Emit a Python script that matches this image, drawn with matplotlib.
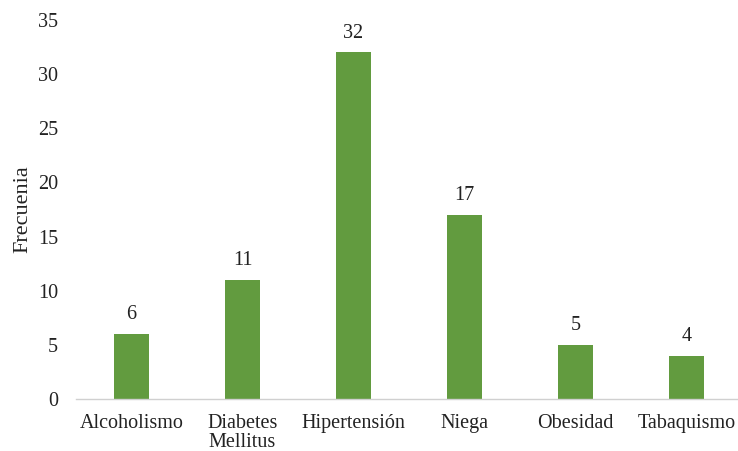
import matplotlib.pyplot as plt

plt.rcParams['font.family'] = ['Liberation Serif', 'DejaVu Serif']
plt.rcParams['font.size'] = 14.5

categories = ['Alcoholismo', 'Diabetes\nMellitus', 'Hipertensión', 'Niega', 'Obesidad', 'Tabaquismo']
frecuencia = [6, 11, 32, 17, 5, 4]

fig = plt.figure(figsize=(7.38, 4.51), dpi=100)
ax = fig.add_axes([76 / 738, 52 / 451, 666 / 738, 379 / 451])

x = range(len(categories))
bars = ax.bar(x, frecuencia, width=0.31, color='#629b3f', zorder=2)
for xi, v in zip(x, frecuencia):
    ax.text(xi, v + 0.9, str(v), ha='center', va='bottom', fontsize=14.5, color='#222222')

ax.set_xlim(-0.5, len(categories) - 0.5)
ax.set_ylim(0, 35)
ax.set_yticks(range(0, 36, 5))
ax.set_xticks(list(x))
ax.set_xticklabels(categories, color='#222222', linespacing=1.0)
ax.tick_params(axis='both', length=0, labelcolor='#222222')
ax.tick_params(axis='y', pad=13)
ax.tick_params(axis='x', pad=11)
for s in ['top', 'right', 'left']:
    ax.spines[s].set_visible(False)
ax.spines['bottom'].set_color('#d0d0d0')
ax.spines['bottom'].set_linewidth(1.0)
ax.set_ylabel('Frecuenia', fontsize=16, color='#222222', labelpad=4)

fig.savefig('out.png', dpi=100)
